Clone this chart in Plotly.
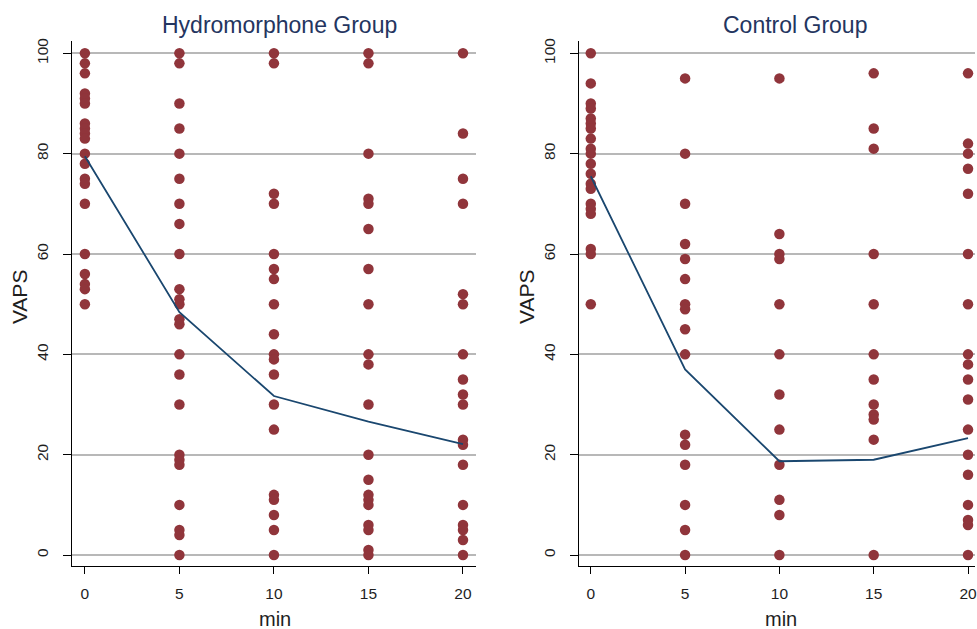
import plotly.graph_objects as go

times = [0, 5, 10, 15, 20]

hydro_vals = {
    0: [100, 98, 96, 92, 91, 90, 86, 85, 84, 83, 80, 78, 75, 74, 70, 60, 56, 54, 53, 50],
    5: [100, 98, 90, 85, 80, 75, 70, 66, 60, 53, 51, 50, 47, 46, 40, 36, 30, 20, 19, 18, 10, 5, 4, 0],
    10: [100, 98, 72, 70, 60, 57, 55, 50, 44, 40, 39, 36, 30, 25, 12, 11, 8, 5, 0],
    15: [100, 98, 80, 71, 70, 65, 57, 50, 40, 38, 30, 20, 15, 12, 11, 10, 6, 5, 1, 0],
    20: [100, 84, 75, 70, 52, 50, 40, 35, 32, 30, 23, 22, 18, 10, 6, 5, 3, 0],
}
control_vals = {
    0: [100, 94, 90, 89, 87, 86, 85, 83, 81, 80, 78, 76, 74, 73, 70, 69, 68, 61, 60, 50],
    5: [95, 80, 70, 62, 59, 55, 50, 49, 45, 40, 24, 22, 18, 10, 5, 0],
    10: [95, 64, 60, 59, 50, 40, 32, 25, 18, 11, 8, 0],
    15: [96, 85, 81, 60, 50, 40, 35, 30, 28, 27, 23, 0],
    20: [96, 82, 80, 77, 72, 60, 50, 40, 38, 35, 31, 25, 20, 16, 10, 7, 6, 0],
}
hydro_mean = [79.5, 48.4, 31.7, 26.6, 22.1]
control_mean = [75.5, 37.0, 18.7, 19.0, 23.3]

y_ticks = [0, 20, 40, 60, 80, 100]
x_ticks = [0, 5, 10, 15, 20]

W, H = 977, 629
DOT = "#90353b"
NAVY = "#1a476f"
TITLE_C = "#24355f"
TXT = "#1e1e1e"
FONT = "Liberation Sans, Arial, sans-serif"

fig = go.Figure()

def add_panel(vals, means, xa, ya):
    xs, ys = [], []
    for t in times:
        for v in vals[t]:
            xs.append(t)
            ys.append(v)
    fig.add_trace(go.Scatter(x=xs, y=ys, mode="markers", xaxis=xa, yaxis=ya,
                             marker=dict(color=DOT, size=10.5, line=dict(width=0)),
                             cliponaxis=False, showlegend=False))
    fig.add_trace(go.Scatter(x=times, y=means, mode="lines", xaxis=xa, yaxis=ya,
                             line=dict(color=NAVY, width=1.8), showlegend=False))

add_panel(hydro_vals, hydro_mean, "x", "y")
add_panel(control_vals, control_mean, "x2", "y2")

ydom = [(H - 565.7) / H, (H - 37.5) / H]
yrange = [-2.2, 102.4]

common_x = dict(tickvals=x_ticks, ticks="outside", ticklen=7, tickcolor="black",
                showline=True, linecolor="black", linewidth=1.2, showgrid=False,
                zeroline=False, tickfont=dict(size=15.5, color=TXT), ticklabelstandoff=6,
                ticklabeloverflow="allow")
common_y = dict(tickvals=y_ticks, ticks="outside", ticklen=8, tickcolor="black",
                showline=True, linecolor="black", linewidth=1.2, showgrid=True,
                gridcolor="#b8b8b8", gridwidth=1.6, zeroline=False, tickangle=-90,
                tickfont=dict(size=15.5, color=TXT), range=yrange, domain=ydom,
                ticklabelstandoff=9)

def ann(text, xpx, ypx, size, color, angle=0):
    return dict(text=text, x=xpx / W, y=(H - ypx) / H, xref="paper", yref="paper",
                showarrow=False, font=dict(size=size, color=color), textangle=angle,
                xanchor="center", yanchor="middle")

fig.update_layout(
    width=W, height=H,
    margin=dict(l=0, r=0, t=0, b=0),
    paper_bgcolor="white", plot_bgcolor="white",
    font=dict(family=FONT),
    xaxis=dict(common_x, domain=[72 / W, 477 / W], range=[-0.69, 20.69], anchor="y"),
    yaxis=dict(common_y, anchor="x"),
    xaxis2=dict(common_x, domain=[580 / W, 1.0], range=[-0.635, 20.37], anchor="y2"),
    yaxis2=dict(common_y, anchor="x2"),
    annotations=[
        ann("Hydromorphone Group", 280.5, 21, 23, TITLE_C),
        ann("Control Group", 796.5, 21, 23, TITLE_C),
        ann("VAPS", 19, 295, 21, TXT, -90),
        ann("VAPS", 527, 295, 21, TXT, -90),
        ann("min", 276, 619, 20, TXT),
        ann("min", 783, 619, 20, TXT),
    ],
)

fig.write_html("out.html", config={"displayModeBar": False})

with open("out.html", "r", encoding="utf-8") as f:
    html = f.read()
html = html.replace("<head>", "<head><style>html,body{margin:0;padding:0;overflow:hidden;}</style>", 1)
with open("out.html", "w", encoding="utf-8") as f:
    f.write(html)
